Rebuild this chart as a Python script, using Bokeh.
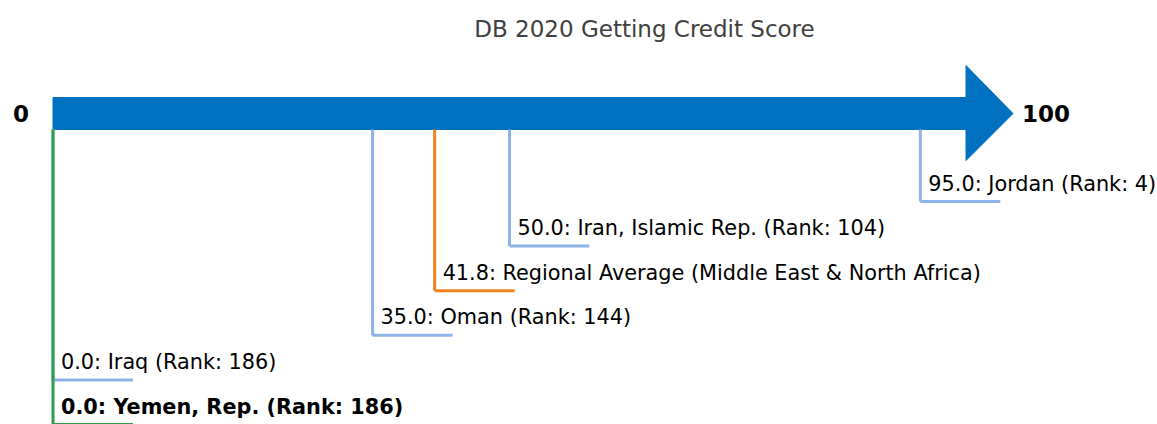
from bokeh.plotting import figure
from bokeh.models import Range1d, Label
from bokeh.core.properties import value
from bokeh.embed import file_html
from bokeh.resources import INLINE

# ---- data ----
names = ["Yemen, Rep.", "Iraq", "Oman",
         "Regional Average (Middle East & North Africa)",
         "Iran, Islamic Rep.", "Jordan"]
scores = [0.0, 0.0, 35.0, 41.8, 50.0, 95.0]
ranks = [186, 186, 144, None, 104, 4]
highlight = "Yemen, Rep."
regional = "Regional Average (Middle East & North Africa)"
title_text = "DB 2020 Getting Credit Score"
scale_min, scale_max = 0, 100

# ---- layout constants ----
W, H = 1157, 424
X0_PX = 52.5
PX_PER_UNIT = 9.13
BAR_TOP, BAR_BOT = 97, 129
HEAD_TOP, HEAD_BOT = 65, 160
HEAD_LEN = 47 / PX_PER_UNIT
LEVEL_BOTTOM = 424
LEVEL_STEP = 44.6
TICK_LEN = 80 / PX_PER_UNIT

BLUE = "#0070C0"
LIGHT = "#8DB4E8"
ORANGE = "#F5821F"
GREEN = "#2E9E48"
FONT = "DejaVu Sans"

p = figure(width=W, height=H, output_backend="svg", toolbar_location=None,
           x_range=Range1d(-X0_PX / PX_PER_UNIT, (W - X0_PX) / PX_PER_UNIT),
           y_range=Range1d(H, 0), min_border=0)
p.axis.visible = False
p.grid.visible = False
p.outline_line_color = None
p.background_fill_color = "white"

# arrow
ax = [scale_min, scale_max, scale_max, scale_max + HEAD_LEN, scale_max, scale_max, scale_min]
mid = (BAR_TOP + BAR_BOT) / 2
ay = [BAR_TOP, BAR_TOP, HEAD_TOP, mid, HEAD_BOT, BAR_BOT, BAR_BOT]
p.patch(ax, ay, fill_color=BLUE, line_color=BLUE, line_width=1)

# leader lines and labels (draw from top level to bottom so highlight is on top)
order = list(range(len(names)))[::-1]
for i in order:
    n, s, r = names[i], scores[i], ranks[i]
    level_y = LEVEL_BOTTOM - LEVEL_STEP * i
    if n == highlight:
        col = GREEN
    elif n == regional:
        col = ORANGE
    else:
        col = LIGHT
    p.segment(x0=[s], y0=[BAR_BOT], x1=[s], y1=[level_y], line_color=col, line_width=3)
    p.segment(x0=[s], y0=[level_y], x1=[s + TICK_LEN], y1=[level_y], line_color=col, line_width=3)
    label = f"{s:.1f}: {n}" + (f" (Rank: {r})" if r is not None else "")
    p.text(x=[s], y=[level_y], text=[label], x_offset=8, y_offset=-18,
           text_font=value(FONT), text_font_size="20.8px",
           text_font_style="bold" if n == highlight else "normal",
           text_color="black", text_baseline="alphabetic", text_align="left")

# scale ends
p.text(x=[scale_min], y=[mid], text=[str(scale_min)], x_offset=-24, text_align="right",
       text_baseline="middle", text_font=value(FONT), text_font_size="23px",
       text_font_style="bold", text_color="black")
p.text(x=[scale_max + HEAD_LEN], y=[mid], text=[str(scale_max)], x_offset=9, text_align="left",
       text_baseline="middle", text_font=value(FONT), text_font_size="23px",
       text_font_style="bold", text_color="black")

# title
p.add_layout(Label(x=644, y=H - 28, x_units="screen", y_units="screen", text=title_text,
                   text_align="center", text_baseline="middle", text_font=FONT,
                   text_font_size="23px", text_color="#404040"))

open("out.html", "w").write(file_html(p, INLINE))
